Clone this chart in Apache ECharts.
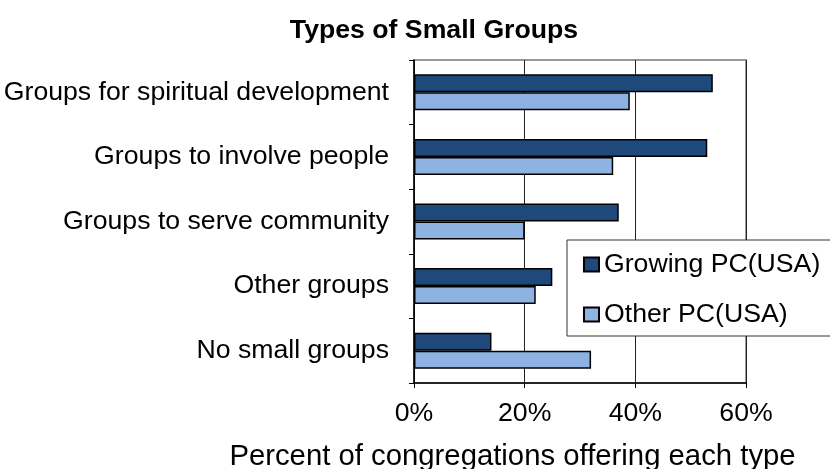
<!DOCTYPE html>
<html><head><meta charset="utf-8">
<script src="https://cdn.jsdelivr.net/npm/echarts@6/dist/echarts.min.js"></script>
<style>html,body{margin:0;padding:0;background:#fff}#c{width:830px;height:469px}</style>
</head><body><div id="c"></div>
<script>
const categories = ["Groups for spiritual development","Groups to involve people","Groups to serve community","Other groups","No small groups"];
const growing = [54, 53, 37, 25, 14];
const other = [39, 36, 20, 22, 32];
const xTicks = [0, 20, 40, 60];
const seriesNames = ["Growing PC(USA)", "Other PC(USA)"];

const chart = echarts.init(document.getElementById('c'), null, {renderer:'canvas'});
const font = 'Liberation Sans, Arial, sans-serif';
chart.setOption({
  animation:false,
  backgroundColor:'#fff',
  title:{text:'Types of Small Groups', left:429, top:12, textAlign:'center',
    textStyle:{fontFamily:font,fontSize:26.67,fontWeight:'bold',color:'#000'}},
  grid:{left:414,right:84,top:60,bottom:86,show:true,borderColor:'#999',borderWidth:2,backgroundColor:'transparent',
    containLabel:false, outerBoundsMode:'none'},
  legend:{orient:'vertical', left:567, top:240,
    padding:[11,24,8,16], itemGap:23, itemWidth:15, itemHeight:14,
    backgroundColor:'#fff', borderColor:'#333', borderWidth:1,
    textStyle:{fontFamily:font,fontSize:26.67,color:'#000'},
    data:seriesNames.map(n=>({name:n,icon:'rect'}))},
  xAxis:{type:'value',min:xTicks[0],max:xTicks[xTicks.length-1],interval:20,
    name:'Percent of congregations offering each type',nameLocation:'middle',nameGap:59,
    nameTextStyle:{fontFamily:font,fontSize:29.3,color:'#000',padding:[0,135,0,0]},
    axisLine:{show:true,lineStyle:{color:'#000',width:1.5}},
    axisTick:{show:true,length:5,lineStyle:{color:'#000'}},
    axisLabel:{formatter:'{value}%',fontFamily:font,fontSize:26.67,color:'#000',margin:17},
    splitLine:{show:true,lineStyle:{color:'#222',width:1}}},
  yAxis:{type:'category',data:categories,inverse:true,
    axisLine:{show:true,lineStyle:{color:'#000',width:1.5}},
    axisTick:{show:true,length:5,lineStyle:{color:'#000'}},
    axisLabel:{fontFamily:font,fontSize:26.67,color:'#000',margin:25}},
  series:[
    {name:seriesNames[0],type:'bar',data:growing,barWidth:18,barGap:'0%',
      itemStyle:{color:'#1F487B',borderColor:'#000',borderWidth:1.5}},
    {name:seriesNames[1],type:'bar',data:other,barWidth:18,barGap:'0%',
      itemStyle:{color:'#8EB3E2',borderColor:'#000',borderWidth:1.5}}
  ]
});
</script></body></html>
